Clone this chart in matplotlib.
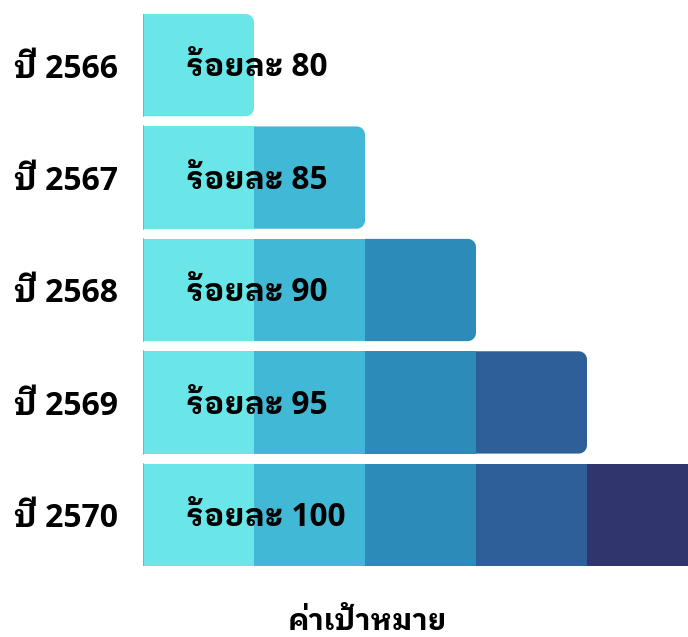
import numpy as np
import matplotlib
matplotlib.use("Agg")
import matplotlib.pyplot as plt
from matplotlib import font_manager
from matplotlib.patches import Polygon

years = ["ปี 2566", "ปี 2567", "ปี 2568", "ปี 2569", "ปี 2570"]
targets = [80, 85, 90, 95, 100]
steps = [1, 2, 3, 4, 5]
colors = ["#6ae5e8", "#41b8d5", "#2d8bba", "#2f5f98", "#31356e"]

# a static bold Latin face for digits, Thai glyphs fall back to the looped Thai family
latin = "IBM Plex Sans Thai Looped"
for f in font_manager.fontManager.ttflist:
    if f.name in ("Open Sans", "Noto Sans") and f.weight == 700 and "Italic" not in f.fname:
        latin = f.name
        break
plt.rcParams["font.family"] = [latin, "IBM Plex Sans Thai Looped"]


def right_rounded(x0, y0, w, hh, rx, ry):
    # rectangle with only the right corners rounded
    t = np.linspace(0, np.pi / 2, 10)
    pts = [(x0, y0)]
    pts += [(x0 + w - rx + rx * np.sin(a), y0 + ry - ry * np.cos(a)) for a in t]
    pts += [(x0 + w - rx + rx * np.cos(a), y0 + hh - ry + ry * np.sin(a)) for a in t]
    pts += [(x0, y0 + hh)]
    return pts


fig = plt.figure(figsize=(6.88, 6.37), dpi=100)
ax = fig.add_axes([143 / 688, 1 - 566 / 637, 1 - 143 / 688, 552 / 637])

h = 0.91
for i, n in enumerate(steps):
    for j in range(n):
        if j == n - 1 and i < len(steps) - 1:
            ax.add_patch(Polygon(right_rounded(j, i - h / 2, 1, h, 0.075, 0.074),
                                 closed=True, fc=colors[j], ec="none"))
        else:
            ax.barh(i, 1, left=j, height=h, color=colors[j], edgecolor="none")
    ax.plot([0.004, 0.004], [i - h / 2, i + h / 2], color="#3ec3d8", lw=1.2)
    ax.text(0.385, i + 0.025, "ร้อยละ %d" % targets[i], ha="left", va="center",
            fontsize=22.8, fontweight="bold", color="black")

ax.set_xlim(0, 545 / 111)
ax.set_ylim(len(steps) - 1 + 0.455, -0.455)
ax.set_yticks(range(len(years)))
ax.set_yticklabels(years, fontsize=23, fontweight="bold")
ax.tick_params(axis="y", length=0, pad=18)
ax.set_xticks([])
for s in ax.spines.values():
    s.set_visible(False)

fig.text(367 / 688, 1 - 622 / 637, "ค่าเป้าหมาย", ha="center", va="center",
         fontsize=21, fontweight="bold")

fig.savefig("out.png", dpi=100)
